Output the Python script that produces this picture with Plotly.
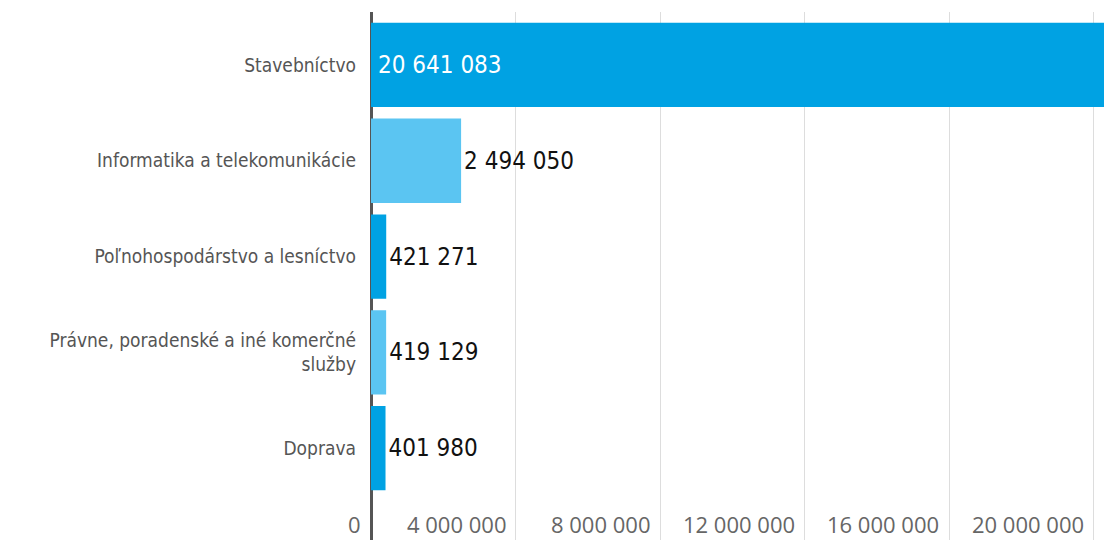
import plotly.graph_objects as go

categories = ["Stavebníctvo", "Informatika a telekomunikácie", "Poľnohospodárstvo a lesníctvo",
              "Právne, poradenské a iné komerčné<br>služby", "Doprava"]
values = [20641083, 2494050, 421271, 419129, 401980]
colors = ["#00a2e3", "#5bc5f2", "#00a2e3", "#5bc5f2", "#00a2e3"]
tick_values = [0, 4000000, 8000000, 12000000, 16000000, 20000000]
tick_labels = ["0", "4 000 000", "8 000 000", "12 000 000", "16 000 000", "20 000 000"]

def fmt(v):
    return f"{v:,}".replace(",", " ")

NARROW = "Liberation Sans Narrow, DejaVu Sans Condensed, Arial Narrow, sans-serif"

fig = go.Figure()
fig.add_trace(go.Bar(
    y=categories, x=values, orientation="h",
    marker=dict(color=colors, line=dict(width=0)),
    text=[""] + [fmt(v) for v in values[1:]],
    textposition="outside",
    outsidetextfont=dict(color="#111111", size=24, family=NARROW),
    constraintext="none",
    cliponaxis=False,
    width=0.88,
    hoverinfo="skip",
))

# label inside the (clipped) first bar
fig.add_annotation(x=0, y=categories[0], xref="x", yref="y", text=fmt(values[0]),
                   showarrow=False, xanchor="left", yanchor="middle", xshift=5,
                   font=dict(family=NARROW, size=24, color="white"))

for v, lab in zip(tick_values, tick_labels):
    fig.add_annotation(x=v, y=16 / 528, xref="x", yref="paper", text=lab,
                       showarrow=False, xanchor="right", yanchor="middle", xshift=-8,
                       font=dict(family="Open Sans, sans-serif", size=22, color="#666666"))

fig.update_layout(
    template="none",
    width=1104, height=540,
    margin=dict(l=371, r=0, t=12, b=0, pad=0, autoexpand=False),
    paper_bgcolor="white", plot_bgcolor="white",
    showlegend=False,
    xaxis=dict(range=[0, 20290000], tickvals=tick_values, showticklabels=False,
               automargin=False, ticks="",
               showgrid=True, gridcolor="#dddddd", gridwidth=1,
               zeroline=True, zerolinecolor="#555555", zerolinewidth=2.5),
    yaxis=dict(range=[4.958, -0.552], tickfont=dict(family=NARROW, size=19, color="#555555"),
               automargin=False, ticks="",
               ticklabelstandoff=14, showgrid=False, zeroline=False),
)

fig.write_html("out.html", config={"displayModeBar": False},
               post_script="document.body.style.margin='0';document.body.style.overflow='hidden';")
